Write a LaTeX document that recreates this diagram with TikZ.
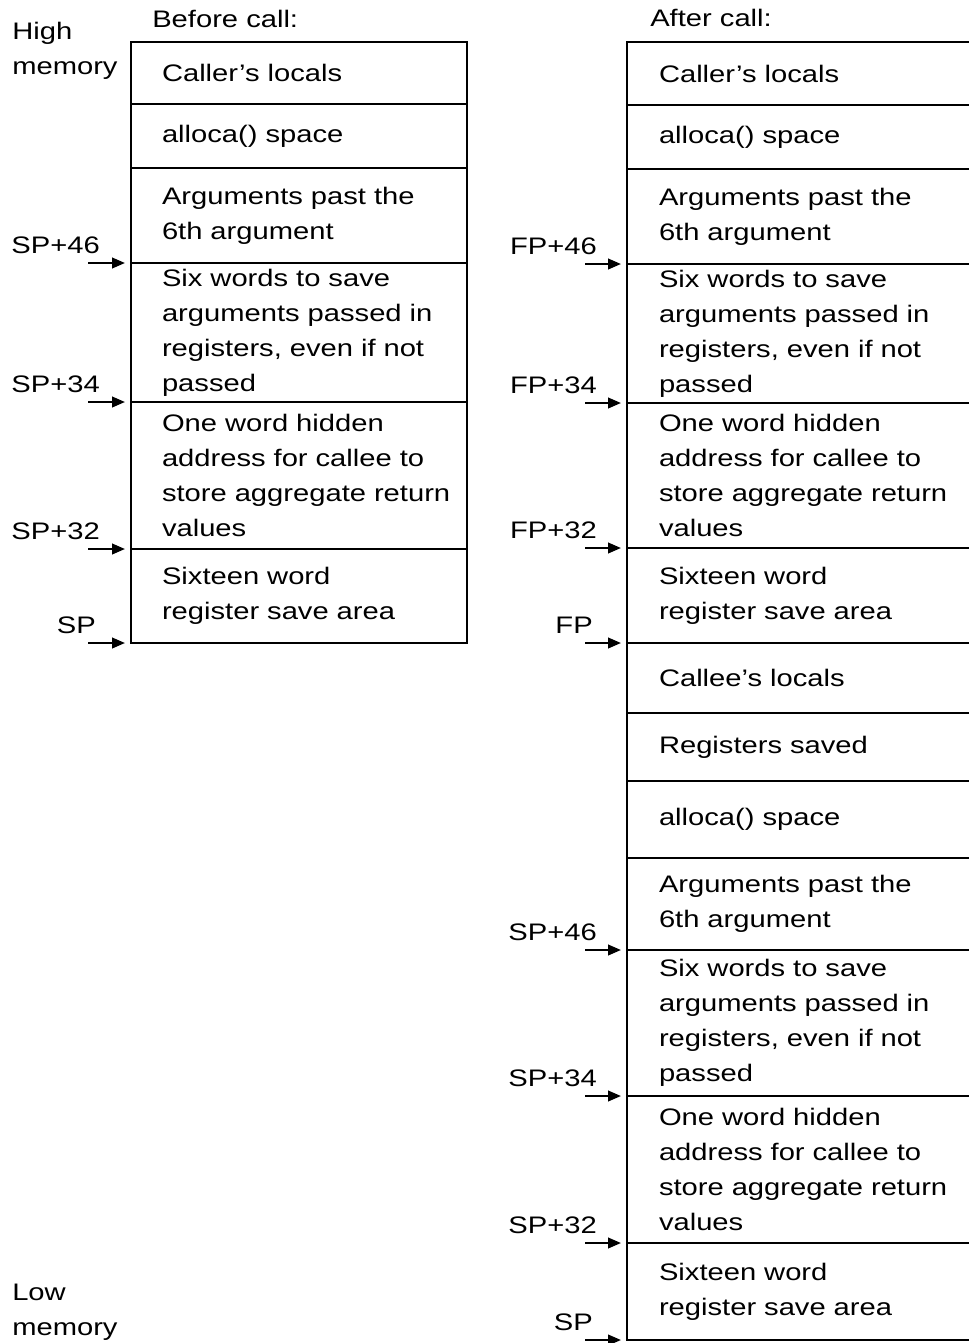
\documentclass[tikz,border=0pt]{standalone}
\usepackage{fontspec}
\setmainfont{Liberation Sans}[FakeStretch=1.22]
\usetikzlibrary{arrows.meta,positioning}
\tikzset{
  cell/.style={
    rectangle, draw, line width=1.8pt, outer sep=0pt,
    inner ysep=1pt, align=left,
    font=\fontsize{17}{24.9}\selectfont
  },
  lcell/.style={cell, text width=6.85cm, inner xsep=0.775cm},
  rcell/.style={cell, text width=10cm, inner xsep=0.8cm},
  ptr/.style={-{Triangle[length=0.32cm,width=0.26cm]}, line width=1.6pt, shorten >=0.15cm},
  ptrlab/.style={inner sep=0pt, font=\fontsize{17}{24.9}\selectfont},
  side/.style={inner sep=0pt, align=left, font=\fontsize{17}{24.9}\selectfont},
}

\begin{document}
\begin{tikzpicture}
  \useasboundingbox (0,0) rectangle (24.225,-33.575);
  \clip (0,0) rectangle (24.225,-33.575);

  % Memory direction
  \node[side, anchor=north west] (high) at (0.3,-0.55) {High\\memory};
  \node[side, anchor=north west] (low) at (0.3,-32.1) {Low\\memory};

  % Stack before the call
  \node[lcell, minimum height=1.55cm, anchor=north west] (bCaller) at (3.275,-1.05)
    {Caller’s locals};
  \node[lcell, minimum height=1.6cm, below=0pt of bCaller] (bAlloca)
    {alloca() space};
  \node[lcell, minimum height=2.375cm, below=0pt of bAlloca] (bArgs)
    {Arguments past the\\6th argument};
  \node[lcell, minimum height=3.475cm, below=0pt of bArgs] (bSix)
    {Six words to save\\arguments passed in\\registers, even if not\\passed};
  \node[lcell, minimum height=3.675cm, below=0pt of bSix] (bHidden)
    {One word hidden\\address for callee to\\\mbox{store aggregate return}\\values};
  \node[lcell, minimum height=2.35cm, below=0pt of bHidden] (bSave)
    {Sixteen word\\register save area};

  \node[side, above right=0.35cm and 0.525cm of bCaller.north west] (before) {Before call:};

  % Stack after the call
  \node[rcell, minimum height=1.575cm, anchor=north west] (aCaller) at (15.675,-1.05)
    {Caller’s locals};
  \node[rcell, minimum height=1.6cm, below=0pt of aCaller] (aAlloca)
    {alloca() space};
  \node[rcell, minimum height=2.375cm, below=0pt of aAlloca] (aArgs)
    {Arguments past the\\6th argument};
  \node[rcell, minimum height=3.475cm, below=0pt of aArgs] (aSix)
    {Six words to save\\arguments passed in\\registers, even if not\\passed};
  \node[rcell, minimum height=3.625cm, below=0pt of aSix] (aHidden)
    {One word hidden\\address for callee to\\store aggregate return\\values};
  \node[rcell, minimum height=2.375cm, below=0pt of aHidden] (aSave)
    {Sixteen word\\register save area};
  \node[rcell, minimum height=1.75cm, below=0pt of aSave] (aLocals)
    {Callee’s locals};
  \node[rcell, minimum height=1.7cm, below=0pt of aLocals] (aRegs)
    {Registers saved};
  \node[rcell, minimum height=1.925cm, below=0pt of aRegs] (aAllocaB)
    {alloca() space};
  \node[rcell, minimum height=2.3cm, below=0pt of aAllocaB] (aArgsB)
    {Arguments past the\\6th argument};
  \node[rcell, minimum height=3.65cm, below=0pt of aArgsB] (aSixB)
    {Six words to save\\arguments passed in\\registers, even if not\\passed};
  \node[rcell, minimum height=3.675cm, below=0pt of aSixB] (aHiddenB)
    {One word hidden\\address for callee to\\store aggregate return\\values};
  \node[rcell, minimum height=2.425cm, below=0pt of aHiddenB] (aSaveB)
    {Sixteen word\\register save area};

  \node[side, above right=0.375cm and 0.575cm of aCaller.north west] (after) {After call:};

  % Pointers into the stack before the call
  \coordinate[left=1.075cm of bArgs.south west] (bSP46);
  \node[ptrlab, above left=0.22cm and -0.3cm of bSP46] (bSP46lab) {SP+46};
  \draw[ptr] (bSP46) -- (bArgs.south west);

  \coordinate[left=1.075cm of bSix.south west] (bSP34);
  \node[ptrlab, above left=0.22cm and -0.3cm of bSP34] (bSP34lab) {SP+34};
  \draw[ptr] (bSP34) -- (bSix.south west);

  \coordinate[left=1.075cm of bHidden.south west] (bSP32);
  \node[ptrlab, above left=0.22cm and -0.3cm of bSP32] (bSP32lab) {SP+32};
  \draw[ptr] (bSP32) -- (bHidden.south west);

  \coordinate[left=1.075cm of bSave.south west] (bSP);
  \node[ptrlab, above left=0.22cm and -0.2cm of bSP] (bSPlab) {SP};
  \draw[ptr] (bSP) -- (bSave.south west);

  % Pointers into the stack after the call
  \coordinate[left=1.05cm of aArgs.south west] (aFP46);
  \node[ptrlab, above left=0.22cm and -0.3cm of aFP46] (aFP46lab) {FP+46};
  \draw[ptr] (aFP46) -- (aArgs.south west);

  \coordinate[left=1.05cm of aSix.south west] (aFP34);
  \node[ptrlab, above left=0.22cm and -0.3cm of aFP34] (aFP34lab) {FP+34};
  \draw[ptr] (aFP34) -- (aSix.south west);

  \coordinate[left=1.05cm of aHidden.south west] (aFP32);
  \node[ptrlab, above left=0.22cm and -0.3cm of aFP32] (aFP32lab) {FP+32};
  \draw[ptr] (aFP32) -- (aHidden.south west);

  \coordinate[left=1.05cm of aSave.south west] (aFP);
  \node[ptrlab, above left=0.22cm and -0.2cm of aFP] (aFPlab) {FP};
  \draw[ptr] (aFP) -- (aSave.south west);

  \coordinate[left=1.05cm of aArgsB.south west] (aSP46);
  \node[ptrlab, above left=0.22cm and -0.3cm of aSP46] (aSP46lab) {SP+46};
  \draw[ptr] (aSP46) -- (aArgsB.south west);

  \coordinate[left=1.05cm of aSixB.south west] (aSP34);
  \node[ptrlab, above left=0.22cm and -0.3cm of aSP34] (aSP34lab) {SP+34};
  \draw[ptr] (aSP34) -- (aSixB.south west);

  \coordinate[left=1.05cm of aHiddenB.south west] (aSP32);
  \node[ptrlab, above left=0.22cm and -0.3cm of aSP32] (aSP32lab) {SP+32};
  \draw[ptr] (aSP32) -- (aHiddenB.south west);

  \coordinate[left=1.05cm of aSaveB.south west] (aSP);
  \node[ptrlab, above left=0.22cm and -0.2cm of aSP] (aSPlab) {SP};
  \draw[ptr] (aSP) -- (aSaveB.south west);
\end{tikzpicture}
\end{document}
